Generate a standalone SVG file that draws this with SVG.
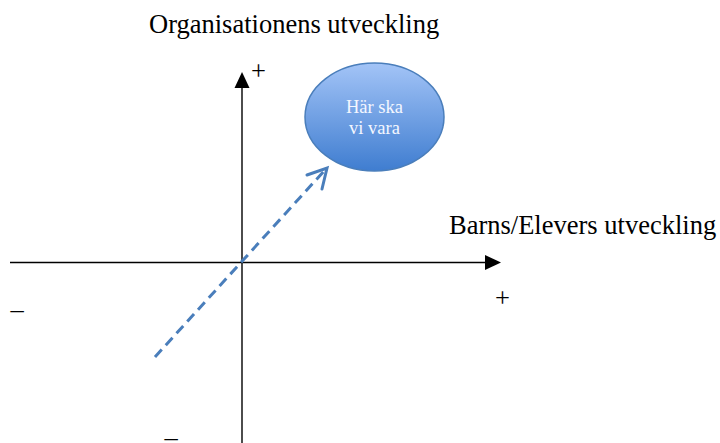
<svg xmlns="http://www.w3.org/2000/svg" width="720" height="443" viewBox="0 0 720 443">
<style>
.t{font-family:"Liberation Serif","Times New Roman",serif;font-size:26.5px;fill:#000}
.axis{stroke:#000;stroke-width:1.4;fill:none}
.head{fill:#000}
.dash{stroke:#4a7ebb;stroke-width:3;fill:none;stroke-dasharray:10 6}
.chev{stroke:#4a7ebb;stroke-width:3;fill:none;stroke-linecap:round;stroke-linejoin:miter}
.lbl{font-family:"Liberation Serif","Times New Roman",serif;font-size:18.5px;fill:#f4f7ff;text-anchor:middle}
</style>
<defs>
<linearGradient id="g" x1="0" y1="0" x2="0" y2="1">
<stop offset="0" stop-color="#a3c4f7"/>
<stop offset="1" stop-color="#3f7dd0"/>
</linearGradient>
</defs>
<rect width="720" height="443" fill="#fff"/>
<text class="t" x="149" y="33">Organisationens utveckling</text>
<text class="t" x="449" y="234">Barns/Elevers utveckling</text>
<g id="connectors">
<line class="axis" x1="242" y1="443" x2="242" y2="86"/>
<polygon class="head" points="242,72 234.5,88 249.5,88"/>
<line class="axis" x1="10" y1="262.5" x2="487" y2="262.5"/>
<polygon class="head" points="501,262.5 485,255 485,270"/>
<line class="dash" x1="155" y1="357" x2="325" y2="170"/>
<polyline class="chev" points="307,175 327,168 322,189"/>
</g>
<g id="plus-y"><text class="t" x="258.5" y="80" text-anchor="middle">+</text></g>
<g id="plus-x"><text class="t" x="502.5" y="307" text-anchor="middle">+</text></g>
<g id="minus-x"><text class="t" x="17" y="318" text-anchor="middle">–</text></g>
<g id="minus-y"><text class="t" x="171" y="446" text-anchor="middle">–</text></g>
<g id="goal">
<ellipse cx="374.5" cy="117" rx="69.5" ry="54" fill="url(#g)" stroke="#4a7ebb" stroke-width="1.5"/>
<text class="lbl" x="374.5" y="113">Här ska</text>
<text class="lbl" x="374.5" y="134">vi vara</text>
</g>
</svg>
